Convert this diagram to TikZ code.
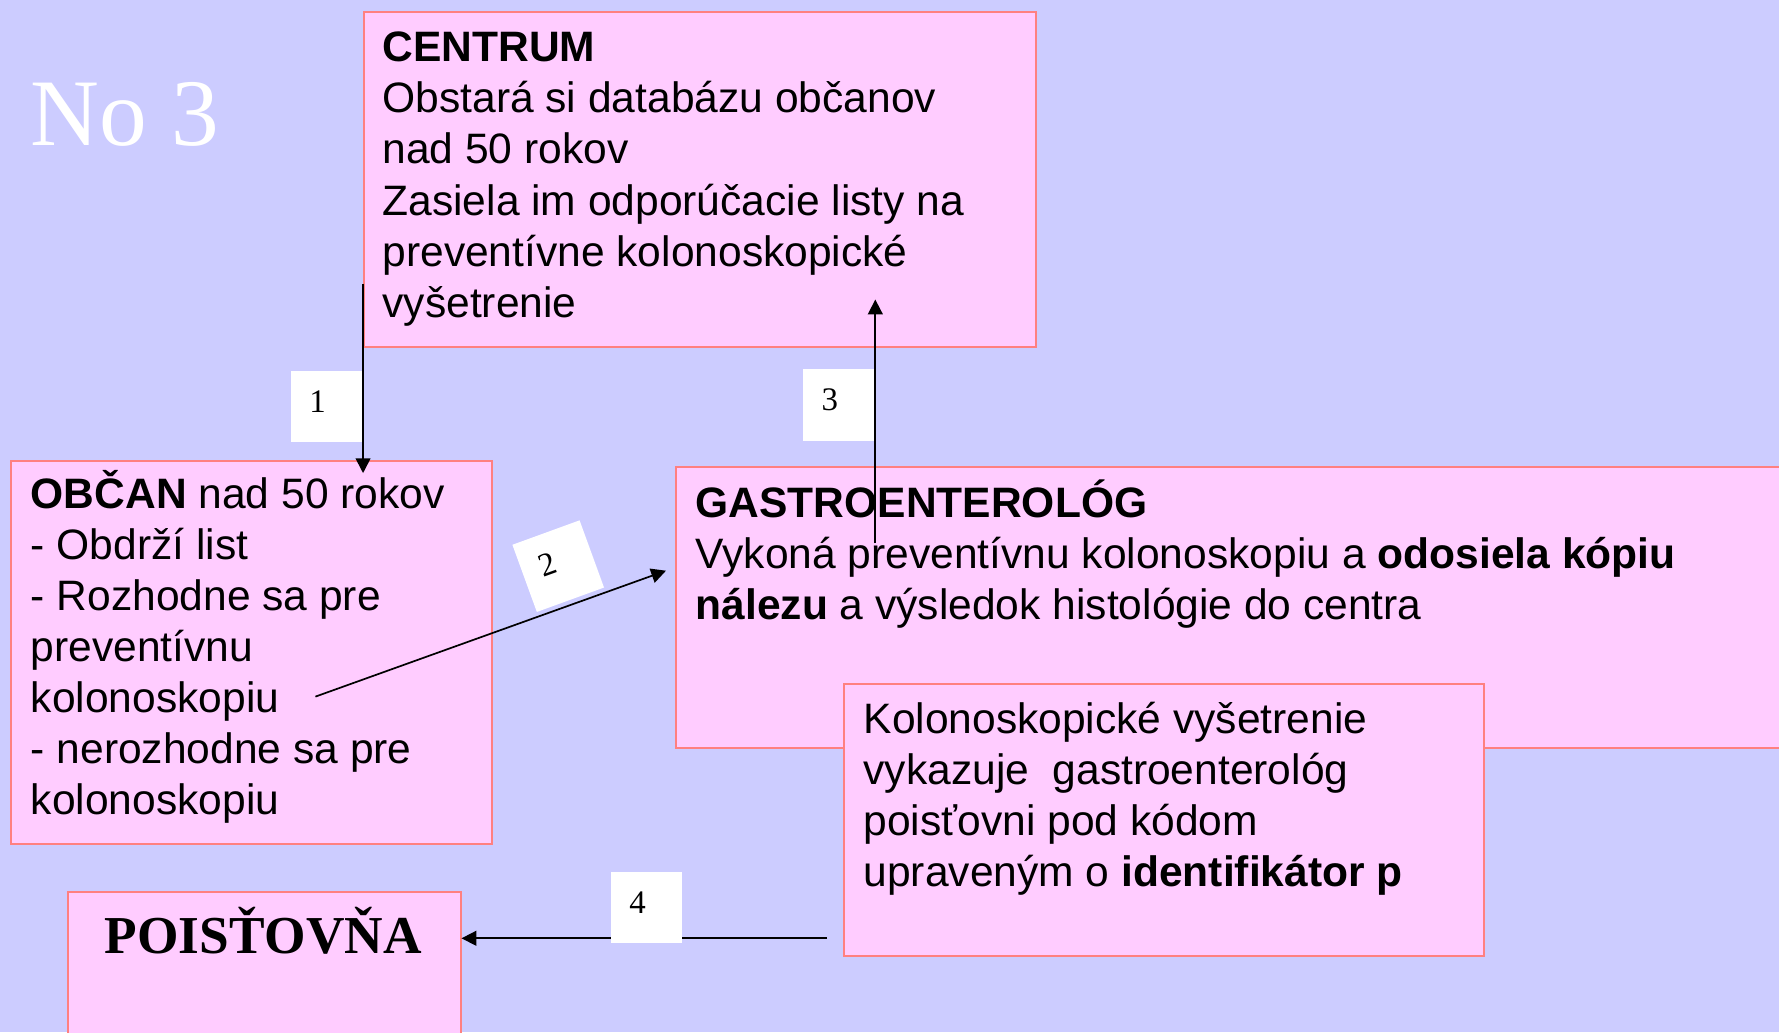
\documentclass[tikz,border=0pt]{standalone}
\usepackage{fontspec}
\setmainfont{Liberation Sans}
\newfontfamily\timesfont{Liberation Serif}
\usetikzlibrary{arrows.meta}
\definecolor{bgblue}{RGB}{204,204,255}
\definecolor{boxpink}{RGB}{255,204,255}
\definecolor{boxline}{RGB}{255,128,128}
\newcommand{\boxtext}{\fontsize{37.5}{45}\selectfont}
\newcommand{\numtxt}[1]{\raisebox{-5pt}[0pt][0pt]{\makebox[0pt]{#1\hspace*{16pt}}}}

\begin{document}
\begin{tikzpicture}[x=1pt,y=1pt,
  pinkbox/.style={draw=boxline,line width=1.8pt,fill=boxpink,anchor=north west,inner sep=0pt},
  boxtxt/.style={anchor=base west,inner sep=0pt},
  numbox/.style={fill=white,inner sep=0pt,minimum width=63pt,minimum height=63pt,font=\timesfont\fontsize{29}{30}\selectfont},
  flow/.style={line width=1.5pt,-{Triangle[length=13pt,width=13pt]}}]
\useasboundingbox (0,0) rectangle (1568,-910);
\clip (0,0) rectangle (1568,-910);
\fill[bgblue] (0,0) rectangle (1568,-910);

\node[boxtxt,text=white,font=\timesfont\fontsize{84}{90}\selectfont] (title) at (27,-128) {No 3};

% boxes
\node[pinkbox,minimum width=592pt,minimum height=295pt] (centrum) at (320,-10) {};
\node[pinkbox,minimum width=424pt,minimum height=338pt] (obcan) at (9,-405) {};
\node[pinkbox,minimum width=1005pt,minimum height=247pt] (gastro) at (595,-411) {};
\node[pinkbox,minimum width=564pt,minimum height=240pt] (vykaz) at (743,-602) {};
\node[pinkbox,minimum width=346pt,minimum height=150pt] (poist) at (59,-785) {};

% texts
\node[boxtxt] (centrumtxt) at (337,-54.5) {\parbox[t]{700pt}{\boxtext\raggedright
\textbf{CENTRUM}\\
Obstará si databázu občanov\\
nad 50 rokov\\
Zasiela im odporúčacie listy na\\
preventívne kolonoskopické\\
vyšetrenie}};
\node[boxtxt] (obcantxt) at (27,-448) {\parbox[t]{700pt}{\boxtext\raggedright
\textbf{OBČAN} nad 50 rokov\\
- Obdrží list\\
- Rozhodne sa pre\\
preventívnu\\
kolonoskopiu\\
- nerozhodne sa pre\\
kolonoskopiu}};
\node[boxtxt] (gastrotxt) at (613,-456) {\parbox[t]{1000pt}{\boxtext\raggedright
\textbf{GASTROENTEROLÓG}\\
Vykoná preventívnu kolonoskopiu a \textbf{odosiela kópiu}\\
\textbf{nálezu} a výsledok histológie do centra}};
\node[boxtxt] (vykaztxt) at (761,-646.5) {\parbox[t]{700pt}{\boxtext\raggedright
Kolonoskopické vyšetrenie\\
vykazuje\ \ gastroenterológ\\
poisťovni pod kódom\\
upraveným o \textbf{identifikátor p}}};
\node[anchor=base,inner sep=0pt,font=\timesfont\bfseries\fontsize{47}{50}\selectfont] (poisttxt) at (232,-840) {POISŤOVŇA};

% arrows
\coordinate (a1s) at (320,-250);
\coordinate (a1e) at (320,-417);
\coordinate (a2s) at (278,-614);
\coordinate (a2e) at (587,-503);
\coordinate (a3s) at (771.5,-479);
\coordinate (a3e) at (771.5,-264);
\coordinate (a4s) at (729,-827);
\draw[flow] (a4s) -- (a4s -| poist.east);

\node[numbox] (n1) at (288,-358.5) {\numtxt{1}};
\node[numbox,rotate=20] (n2) at (492,-499) {\numtxt{2}};
\node[numbox] (n3) at (739.5,-357) {\numtxt{3}};
\node[numbox,minimum height=62pt] (n4) at (570,-800) {\numtxt{4}};

\draw[flow] (a1s) -- (a1e);
\draw[flow] (a2s) -- (a2e);
\draw[flow] (a3s) -- (a3e);
\end{tikzpicture}
\end{document}
